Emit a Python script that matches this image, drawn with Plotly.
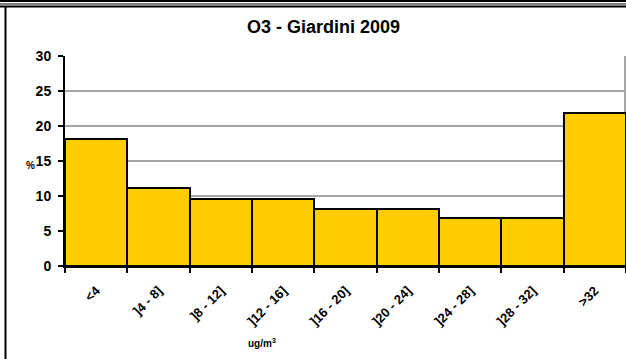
import plotly.graph_objects as go

categories = ["<4", "]4 - 8]", "]8 - 12]", "]12 - 16]", "]16 - 20]",
              "]20 - 24]", "]24 - 28]", "]28 - 32]", ">32"]
values = [18.2, 11.1, 9.6, 9.6, 8.1, 8.1, 6.9, 6.9, 21.8]
y_ticks = [0, 5, 10, 15, 20, 25, 30]

W, H = 626, 359
L, R, T, B = 65, 0, 56, 93
pw, ph = W - L - R, H - T - B

def px(x):
    return (x - L) / pw

def py(y):
    return (H - B - y) / ph

FONT = "Liberation Sans, Arial, sans-serif"

fig = go.Figure(go.Bar(
    x=categories, y=values,
    marker=dict(color="#FFCC00", line=dict(color="black", width=2)),
    width=1.0,
))

fig.update_layout(
    width=W, height=H,
    margin=dict(l=L, r=R, t=T, b=B, autoexpand=False),
    paper_bgcolor="white", plot_bgcolor="white",
    bargap=0, showlegend=False,
    font=dict(family=FONT, color="black"),
    title=dict(text="<b>O3 - Giardini 2009</b>", x=(323.5) / W, xanchor="center",
               y=1 - 27 / H, yanchor="middle",
               font=dict(size=18, family=FONT, color="black")),
    xaxis=dict(type="category", range=[-0.5, 8.5], showline=True, linecolor="black",
               linewidth=2, ticks="outside", tickson="boundaries", ticklen=5,
               tickwidth=2, tickcolor="black", tickangle=-45, automargin=False,
               ticklabelstandoff=10,
               tickfont=dict(size=13, family=FONT, color="black", weight="bold"),
               showgrid=False, zeroline=False),
    yaxis=dict(range=[0, 30], tickvals=y_ticks, showline=True, linecolor="black",
               linewidth=2, ticks="outside", ticklen=5, tickwidth=2, tickcolor="black",
               ticklabelstandoff=4, automargin=False,
               tickfont=dict(size=14, family=FONT, color="black", weight="bold"),
               showgrid=True, gridcolor="#A6A6A6", gridwidth=2, zeroline=False),
    annotations=[
        dict(text="<b>ug/m<sup>3</sup></b>", x=px(262), y=py(343), xref="paper", yref="paper",
             showarrow=False, font=dict(size=10, family=FONT, color="black"),
             xanchor="center", yanchor="middle"),
        dict(text="<b>%</b>", x=px(30), y=py(165), xref="paper", yref="paper",
             showarrow=False, font=dict(size=10, family=FONT, color="black"),
             xanchor="center", yanchor="middle"),
    ],
    shapes=[
        dict(type="line", xref="paper", yref="paper", x0=px(0), x1=px(W), y0=py(1), y1=py(1),
             line=dict(color="black", width=2)),
        dict(type="line", xref="paper", yref="paper", x0=px(0), x1=px(W), y0=py(4), y1=py(4),
             line=dict(color="#808080", width=2)),
        dict(type="line", xref="paper", yref="paper", x0=px(0), x1=px(W), y0=py(6.5), y1=py(6.5),
             line=dict(color="black", width=2)),
        dict(type="line", xref="paper", yref="paper", x0=px(5.5), x1=px(5.5), y0=py(6), y1=py(H),
             line=dict(color="black", width=2)),
        dict(type="line", xref="paper", yref="paper", x0=px(625), x1=px(625), y0=1, y1=0,
             line=dict(color="#A6A6A6", width=2), layer="below"),
    ],
)

fig.write_html("out.html", config={"displayModeBar": False},
               post_script="document.body.style.margin='0';document.body.style.overflow='hidden';")
